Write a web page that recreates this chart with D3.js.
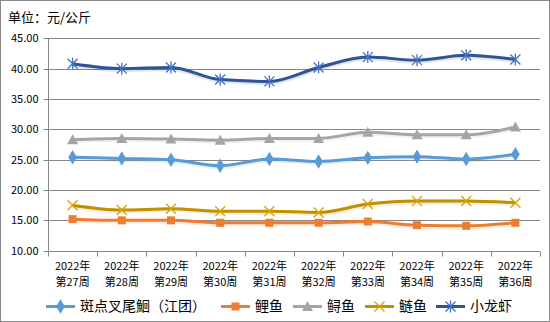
<!DOCTYPE html>
<html><head><meta charset="utf-8">
<script src="https://cdn.jsdelivr.net/npm/d3@7"></script>
<style>body{margin:0;background:#fff}svg{display:block}text{font-family:"Noto Sans CJK SC","Noto Sans",sans-serif;fill:#000}</style>
</head><body><svg id="c" width="550" height="322"></svg>
<script>
const weeks = ["第27周","第28周","第29周","第30周","第31周","第32周","第33周","第34周","第35周","第36周"];
const yearLabel = "2022年";
const seriesNames = ["斑点叉尾鮰（江团）","鲤鱼","鲟鱼","鲢鱼","小龙虾"];
const catfish = [25.4,25.2,25.0,24.0,25.1,24.7,25.3,25.5,25.1,25.9];
const carp = [15.2,15.0,15.0,14.6,14.6,14.6,14.8,14.2,14.1,14.6];
const sturgeon = [28.3,28.5,28.4,28.2,28.5,28.5,29.5,29.1,29.1,30.4];
const silverCarp = [17.5,16.7,16.9,16.5,16.5,16.3,17.7,18.2,18.2,17.9];
const crayfish = [40.8,40.0,40.2,38.2,37.9,40.2,41.9,41.4,42.2,41.5];
const yTicks = [10,15,20,25,30,35,40,45];
const unitLabel = "单位：元/公斤";

const series = [
  {name:seriesNames[0], values:catfish, line:"#5B9BD5", mark:"#5B9BD5", sym:"diamond"},
  {name:seriesNames[1], values:carp, line:"#ED7D31", mark:"#ED7D31", sym:"square"},
  {name:seriesNames[2], values:sturgeon, line:"#A5A5A5", mark:"#A5A5A5", sym:"triangle"},
  {name:seriesNames[3], values:silverCarp, line:"#BF9000", mark:"#D9A400", sym:"x"},
  {name:seriesNames[4], values:crayfish, line:"#2F5597", mark:"#4472C4", sym:"star"}
];

const svg = d3.select("#c");
svg.append("rect").attr("x",0.5).attr("y",0.5).attr("width",549).attr("height",321)
  .attr("fill","#fff").attr("stroke","#898989");

const L=48, R=540, T=38.3, B=250.7;
const x = d3.scaleBand().domain(weeks).range([L,R]);
const y = d3.scaleLinear().domain([10,45]).range([B,T]);

svg.append("text").attr("x",8).attr("y",22).attr("font-size",13).text(unitLabel);

// gridlines
svg.append("g").selectAll("line").data(yTicks).join("line")
  .attr("x1",L).attr("x2",R).attr("y1",d=>Math.round(y(d))+0.5).attr("y2",d=>Math.round(y(d))+0.5)
  .attr("stroke","#878787").attr("stroke-width",1);

// y axis
const ya = svg.append("g").attr("transform",`translate(${L+0.5},0)`)
  .call(d3.axisLeft(y).tickValues(yTicks).tickFormat(d3.format(".2f")).tickSize(5).tickPadding(5));
ya.select(".domain").attr("stroke","#878787").attr("d",`M0,${T}V${B}`);
ya.selectAll(".tick line").attr("stroke","#878787");
ya.selectAll(".tick").attr("transform",d=>`translate(0,${Math.round(y(d))+0.5})`);
ya.selectAll("text").attr("font-size",11).attr("fill","#000").style("font-family","'Noto Sans CJK SC'").attr("dy","0.35em");

// x axis
const xa = svg.append("g").attr("transform",`translate(0,${Math.round(B)+0.5})`)
  .call(d3.axisBottom(x).tickSize(0).tickFormat(""));
xa.select(".domain").attr("stroke","#878787").attr("d",`M${L},0H${R}`);
const tickPos = weeks.map(w=>x(w)).concat([R]);
xa.selectAll(".bt").data(tickPos).join("line").attr("class","bt")
  .attr("x1",d=>Math.round(d)+0.5).attr("x2",d=>Math.round(d)+0.5).attr("y1",0).attr("y2",5).attr("stroke","#878787");
const lab = svg.append("g").selectAll("text").data(weeks).join("text")
  .attr("x",d=>x(d)+x.bandwidth()/2).attr("text-anchor","middle").attr("font-size",11);
lab.append("tspan").attr("x",d=>x(d)+x.bandwidth()/2).attr("y",270).text(yearLabel);
lab.append("tspan").attr("x",d=>x(d)+x.bandwidth()/2).attr("y",286).text(d=>d);

function drawMarker(g, sym, color, size){
  if(sym==="diamond"){
    g.append("path").attr("d",d3.symbol(d3.symbolDiamond, 60)()).attr("fill",color).attr("transform","scale(1.05,1)");
  } else if(sym==="square"){
    g.append("rect").attr("x",-4).attr("y",-4).attr("width",8).attr("height",8).attr("fill",color);
  } else if(sym==="triangle"){
    g.append("path").attr("d","M0,-5.5L5.5,4.5L-5.5,4.5Z").attr("fill",color);
  } else if(sym==="x"){
    g.append("path").attr("d","M-5,-5L5,5M-5,5L5,-5").attr("stroke",color).attr("stroke-width",1.3).attr("fill","none");
  } else if(sym==="star"){
    g.append("path").attr("d","M-5,-5L5,5M-5,5L5,-5M0,-6V6").attr("stroke",color).attr("stroke-width",1.3).attr("fill","none");
  }
}

const line = d3.line().x((d,i)=>x(weeks[i])+x.bandwidth()/2).y(d=>y(d)).curve(d3.curveMonotoneX);
const sg = svg.append("g").selectAll("g").data(series).join("g");
sg.append("path").attr("d",d=>line(d.values)).attr("fill","none").attr("stroke",d=>d.line).attr("stroke-opacity",0.15)
  .attr("stroke-width",5).attr("transform","translate(0,1)");
sg.append("path").attr("d",d=>line(d.values)).attr("fill","none").attr("stroke",d=>d.line)
  .attr("stroke-width",3).attr("stroke-linejoin","round");
sg.each(function(s){
  const g = d3.select(this);
  s.values.forEach((v,i)=>{
    const m = g.append("g").attr("transform",`translate(${x(weeks[i])+x.bandwidth()/2},${y(v)})`);
    drawMarker(m, s.sym, s.mark);
  });
});

// legend
const legX = [46,221,293,365,436];
const leg = svg.append("g").selectAll("g").data(series).join("g")
  .attr("transform",(d,i)=>`translate(${legX[i]},306.5)`);
leg.append("line").attr("x1",0).attr("x2",29).attr("stroke",d=>d.line).attr("stroke-width",3);
leg.each(function(s){ const m=d3.select(this).append("g").attr("transform","translate(14.5,0)"); drawMarker(m,s.sym,s.mark); });
leg.append("text").attr("x",34).attr("y",0).attr("dy","0.35em").attr("font-size",14).text(d=>d.name);
</script></body></html>
